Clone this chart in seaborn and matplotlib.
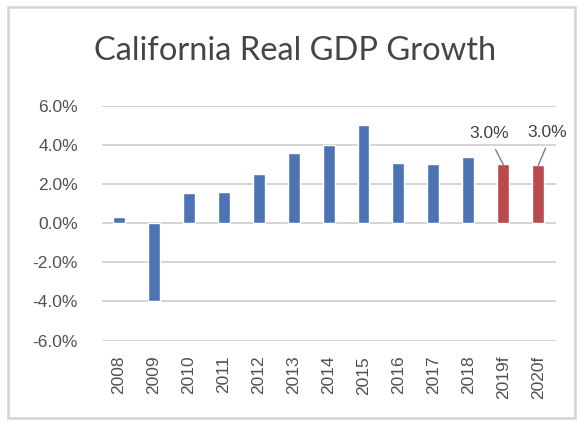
import matplotlib
matplotlib.use("Agg")
import matplotlib.pyplot as plt
import seaborn as sns
import pandas as pd
from matplotlib.patches import Rectangle
from matplotlib.ticker import FuncFormatter

# California real GDP growth, percent (2019/2020 are forecasts)
years = ["2008", "2009", "2010", "2011", "2012", "2013", "2014",
         "2015", "2016", "2017", "2018", "2019f", "2020f"]
growth = [0.3, -4.0, 1.55, 1.6, 2.5, 3.6, 4.0, 5.0, 3.1, 3.0, 3.4, 3.0, 2.95]
kind = ["Actual"] * 11 + ["Forecast"] * 2
labels = {"2019f": "3.0%", "2020f": "3.0%"}
yticks = [-6, -4, -2, 0, 2, 4, 6]

df = pd.DataFrame({"year": years, "growth": growth, "kind": kind})

sns.set_theme(style="white")
plt.rcParams["font.family"] = ["Liberation Sans", "DejaVu Sans"]

fig = plt.figure(figsize=(5.8, 4.3), dpi=100)
ax = fig.add_axes([0.175, 0.208, 0.783, 0.546])

sns.barplot(data=df, x="year", y="growth", hue="kind",
            palette={"Actual": "#3B6FC4", "Forecast": "#CB383B"},
            dodge=False, width=0.34, legend=False, ax=ax, zorder=3)

ax.set_ylim(-6, 6)
ax.set_xlim(-0.5, len(years) - 0.5)
ax.set_yticks(yticks)
ax.yaxis.set_major_formatter(FuncFormatter(lambda v, _: f"{v:.1f}%"))
ax.grid(axis="y", color="#d4d4d4", linewidth=1.4, zorder=0)
ax.set_axisbelow(True)
for s in ax.spines.values():
    s.set_visible(False)
ax.set_xlabel("")
ax.set_ylabel("")
ax.tick_params(axis="y", length=0, pad=17, labelsize=12.5, labelcolor="#505050")
ax.tick_params(axis="x", length=0, pad=11, labelsize=12.5, labelcolor="#505050",
               labelrotation=90)

# Forecast value labels with leader lines
offsets = {"2019f": (-10, 22), "2020f": (6.5, 24)}
for i, (y, v) in enumerate(zip(years, growth)):
    if y in labels:
        ax.annotate(labels[y], xy=(i, v), xytext=offsets[y],
                    textcoords="offset points", ha="center", va="center",
                    fontsize=12.5, color="#404040",
                    arrowprops=dict(arrowstyle="-", color="#7f7f7f", lw=1.0,
                                    relpos=(0.55, 0.0), shrinkA=4, shrinkB=0))

fig.text(0.508, 0.882, "California Real GDP Growth", ha="center", va="center",
         fontsize=23.5, color="#454545", family=["Lato", "DejaVu Sans"])

# light frame around the chart area
fig.patches.append(Rectangle((0.014, 0.027), 0.978, 0.957, transform=fig.transFigure,
                             fill=False, edgecolor="#d4d4d4", linewidth=1.8))

fig.savefig("out.png", dpi=100, facecolor="white")
